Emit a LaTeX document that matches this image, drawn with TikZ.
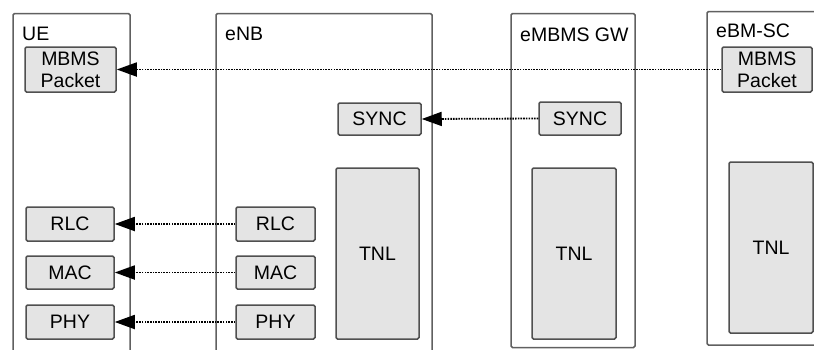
\documentclass[tikz,border=0pt]{standalone}
\usepackage{fontspec}
\setmainfont{Liberation Sans}
\usetikzlibrary{arrows.meta}
\definecolor{framegray}{HTML}{606060}
\definecolor{boxfill}{HTML}{E4E4E4}
\definecolor{boxline}{HTML}{505050}
\tikzset{
  entity/.style={draw=framegray, line width=1.5pt, rounded corners=1.5pt},
  entitylabel/.style={anchor=base west, inner sep=0pt, font=\fontsize{19.5}{22}\selectfont},
  layer/.style={draw=boxline, fill=boxfill, line width=1.5pt, rounded corners=1.5pt,
    inner sep=0pt, align=center, font=\fontsize{19.5}{22}\selectfont},
  peer/.style={line width=1.8pt, dash pattern=on 1.6pt off 1.1pt,
    -{Triangle[length=20pt, width=14pt]}}
}
\begin{document}
\begin{tikzpicture}[x=1pt, y=-1pt]
\useasboundingbox (0,0) rectangle (814,349);
\clip (0,0) rectangle (814,349);
\fill[white] (0,0) rectangle (814,349);

% network entities
\draw[entity] (13,352) -- (13,13.5) -- (130,13.5) -- (130,352);
\draw[entity] (216,352) -- (216,13.5) -- (432,13.5) -- (432,352);
\draw[entity] (511,13.5) rectangle (635,347.5);
\draw[entity] (830,11.5) -- (707,11.5) -- (707,345) -- (830,345);

\node[entitylabel] (uelbl)  at (22,40)    {UE};
\node[entitylabel] (enblbl) at (225,40.5) {eNB};
\node[entitylabel] (gwlbl)  at (520,41)   {eMBMS GW};
\node[entitylabel] (bmlbl)  at (716,37.5) {eBM-SC};

% UE protocol stack
\node[layer, minimum width=91pt, minimum height=45pt] (uepkt) at (70.5,69.5) {MBMS\\Packet};
\node[layer, minimum width=88pt, minimum height=34pt] (uerlc) at (70,224)   {RLC};
\node[layer, minimum width=88pt, minimum height=33pt] (uemac) at (70,272.5) {MAC};
\node[layer, minimum width=88pt, minimum height=34pt] (uephy) at (70,322)   {PHY};

% eNB protocol stack
\node[layer, minimum width=83pt, minimum height=32pt]  (enbsync) at (379.5,119)  {SYNC};
\node[layer, minimum width=83pt, minimum height=171pt] (enbtnl)  at (377.5,253.5) {TNL};
\node[layer, minimum width=79pt, minimum height=34pt]  (enbrlc)  at (275.5,224)  {RLC};
\node[layer, minimum width=79pt, minimum height=33pt]  (enbmac)  at (275.5,272.5) {MAC};
\node[layer, minimum width=79pt, minimum height=34pt]  (enbphy)  at (275.5,322)  {PHY};

% eMBMS GW protocol stack
\node[layer, minimum width=82pt, minimum height=33pt]  (gwsync) at (580,118.5) {SYNC};
\node[layer, minimum width=84pt, minimum height=171pt] (gwtnl)  at (574,253.5) {TNL};

% eBM-SC protocol stack
\node[layer, minimum width=90pt, minimum height=45pt]  (bmpkt) at (767,69.5)  {MBMS\\Packet};
\node[layer, minimum width=84pt, minimum height=171pt] (bmtnl) at (771,247.5) {TNL};

% peer-to-peer flows
\draw[peer] (bmpkt.west)  -- (uepkt.east);
\draw[peer] (gwsync.west) -- (enbsync.east);
\draw[peer] (enbrlc.west) -- (uerlc.east);
\draw[peer] (enbmac.west) -- (uemac.east);
\draw[peer] (enbphy.west) -- (uephy.east);
\end{tikzpicture}
\end{document}
